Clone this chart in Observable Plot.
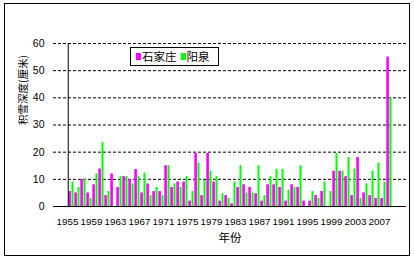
<!DOCTYPE html>
<html>
<head>
<meta charset="utf-8">
<script src="https://cdn.jsdelivr.net/npm/d3@7"></script>
<script src="https://cdn.jsdelivr.net/npm/@observablehq/plot@0.6"></script>
<style>
  html, body { margin: 0; padding: 0; background: #fff; }
  #wrap { position: relative; width: 414px; height: 259px; overflow: hidden; font-family: "Liberation Sans", "Noto Sans CJK SC", sans-serif; }
  #frame { position: absolute; left: 4px; top: 3px; width: 404px; height: 251px; border: 1px solid #000; pointer-events: none; }
  #chart { position: absolute; left: 0; top: 0; }
  #legend { position: absolute; left: 130px; top: 47px; width: 87px; height: 17px; border: 1px solid #000; background: #fff;
    font-family: "Noto Sans CJK SC", sans-serif; font-size: 11.5px; line-height: 17px; white-space: nowrap; }
  #legend .sw { display: inline-block; width: 5px; height: 7px; vertical-align: middle; margin: 0 1px 2px 5px; }
</style>
</head>
<body>
<div id="wrap">
  <div id="chart"></div>
  <div id="legend"></div>
  <div id="frame"></div>
</div>
<script>
// Categories: years
const years = [1955,1956,1957,1958,1959,1960,1961,1962,1963,1964,1965,1966,1967,1968,1969,1970,1971,1972,1973,1974,1975,1976,1977,1978,1979,1980,1981,1982,1983,1984,1985,1986,1987,1988,1989,1990,1991,1992,1993,1994,1995,1996,1997,1998,1999,2000,2001,2002,2003,2004,2005,2006,2007,2008];
// Series names
const seriesNames = ["石家庄", "阳泉"];
// Snow depth (cm), Shijiazhuang
const shijiazhuang = [5.5,5,10,5,8,13.8,4,12,7,11,10,13.6,5,8.3,5.5,5.5,15,7,9,9,2,19.5,4,19.5,9,2,4,1,7,8,7,4.7,2,8,8,7,2,8,7,2,2,4,5.5,0,13,13,11,4,18,5,4,3,3,55];
// Snow depth (cm), Yangquan
const yangquan = [9,7,10,3,12,23.5,5.5,0,11,11,8.3,11,12.3,4,7,4,15,8.3,7,11,5.5,16,9.6,13,11,4.7,3,9,15,5,5,15,4,11,13.7,13.7,6,7,15,0,5.5,3,9,5.5,19.5,13,18,13.8,3,8.3,13,16,9,40];
// Axis tick labels
const yTicks = [0,10,20,30,40,50,60];
const xTickYears = [1955,1959,1963,1967,1971,1975,1979,1983,1987,1991,1995,1999,2003,2007];
const yTitle = "积雪深度(厘米)";
const xTitle = "年份";
const colors = ["#ff00ff", "#00ff00"];

const dataM = years.map((y, i) => ({year: y, v: shijiazhuang[i]}));
const dataG = years.map((y, i) => ({year: y, v: yangquan[i]}));

const plot = Plot.plot({
  width: 414,
  height: 259,
  marginLeft: 53,
  marginRight: 8,
  marginTop: 43,
  marginBottom: 53,
  style: {fontFamily: "Liberation Sans, sans-serif", background: "transparent"},
  x: {type: "band", domain: years, padding: 0},
  y: {domain: [0, 60]},
  marks: [
    Plot.ruleY(yTicks.filter(d => d > 0), {stroke: "#000", strokeDasharray: "3,2", strokeWidth: 1}),
    Plot.barY(dataM, {x: "year", y: "v", fill: colors[0], insetLeft: 0.3, insetRight: 3.1}),
    Plot.barY(dataG, {x: "year", y: "v", fill: colors[1], insetLeft: 3.5, insetRight: 0.5}),
    Plot.axisY({ticks: yTicks, tickSize: 0, tickPadding: 9, label: null, fontSize: 10.5}),
    Plot.axisX({ticks: xTickYears, tickSize: 0, tickPadding: 12, label: null, fontSize: 9.8, dx: -4, tickFormat: d => String(d)}),
    Plot.ruleY([0], {stroke: "#000", strokeWidth: 1}),
    Plot.ruleX([0], {x: () => years[0], stroke: "#000", strokeWidth: 1, dx: -3.26, y1: 0, y2: 60}),
    Plot.text([yTitle], {frameAnchor: "left", text: d => d, rotate: -90, dx: -30, fontSize: 10.5, fontFamily: "Noto Sans CJK SC, sans-serif", fill: "#000"}),
    Plot.text([xTitle], {frameAnchor: "bottom", text: d => d, dy: 35, fontSize: 11.5, fontFamily: "Noto Sans CJK SC, sans-serif", fill: "#000"})
  ]
});
document.getElementById("chart").appendChild(plot);

const legend = document.getElementById("legend");
seriesNames.forEach((name, i) => {
  const sw = document.createElement("span");
  sw.className = "sw";
  sw.style.background = colors[i];
  sw.style.marginLeft = i === 0 ? "5px" : "4px";
  legend.appendChild(sw);
  legend.appendChild(document.createTextNode(name));
});
</script>
</body>
</html>
